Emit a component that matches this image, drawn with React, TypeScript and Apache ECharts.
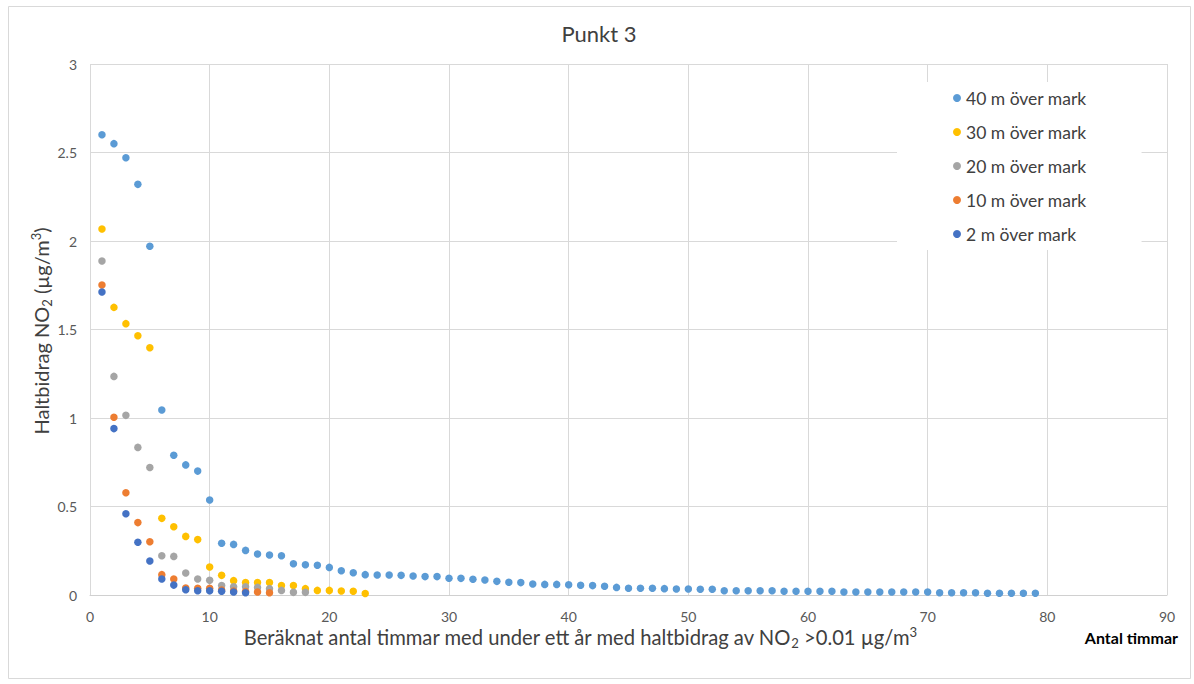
import React, { useEffect, useRef } from "react";
import * as echarts from "echarts";

const TITLE = "Punkt 3";
const SERIES_NAMES = ["40 m över mark", "30 m över mark", "20 m över mark", "10 m över mark", "2 m över mark"];
const COLORS = ["#5B9BD5", "#FFC000", "#A5A5A5", "#ED7D31", "#4472C4"];

// values for hour counts 1, 2, 3, ...
const s40 = [
  2.60, 2.55, 2.47, 2.32, 1.97, 1.045, 0.79, 0.735, 0.70, 0.537,
  0.292, 0.286, 0.252, 0.232, 0.226, 0.222, 0.177, 0.171, 0.168, 0.156,
  0.137, 0.126, 0.115, 0.113, 0.113, 0.111, 0.107, 0.104, 0.104, 0.095,
  0.094, 0.089, 0.085, 0.077, 0.072, 0.070, 0.062, 0.060, 0.060, 0.058,
  0.055, 0.053, 0.049, 0.043, 0.038, 0.038, 0.038, 0.036, 0.034, 0.034,
  0.032, 0.032, 0.024, 0.024, 0.024, 0.024, 0.024, 0.021, 0.021, 0.021,
  0.021, 0.021, 0.017, 0.017, 0.017, 0.017, 0.017, 0.017, 0.017, 0.017,
  0.013, 0.013, 0.013, 0.013, 0.010, 0.010, 0.010, 0.010, 0.010,
];
const s30 = [
  2.068, 1.625, 1.533, 1.465, 1.397, 0.433, 0.386, 0.331, 0.313, 0.158,
  0.111, 0.081, 0.070, 0.070, 0.070, 0.053, 0.053, 0.036, 0.026, 0.026,
  0.023, 0.021, 0.008,
];
const s20 = [
  1.887, 1.235, 1.015, 0.834, 0.72, 0.222, 0.218, 0.124, 0.090, 0.083,
  0.053, 0.047, 0.047, 0.043, 0.036, 0.026, 0.015, 0.015,
];
const s10 = [
  1.751, 1.004, 0.578, 0.409, 0.301, 0.115, 0.090, 0.040, 0.038, 0.038,
  0.028, 0.023, 0.020, 0.017, 0.013,
];
const s2 = [
  1.712, 0.94, 0.459, 0.298, 0.192, 0.090, 0.056, 0.030, 0.024, 0.024,
  0.021, 0.017, 0.013,
];
const SERIES_VALUES = [s40, s30, s20, s10, s2];

const X_TITLE = "Beräknat antal timmar med under ett år med haltbidrag av NO{sub|2} >0.01 µg/m{sup|3}";
const X_UNIT = "Antal timmar";
const Y_TITLE = "Haltbidrag NO{sub|2} (µg/m{sup|3})";

const FONT = "Lato, 'Open Sans', sans-serif";

export default function App() {
  const ref = useRef<HTMLDivElement>(null);
  useEffect(() => {
    if (!ref.current) return;
    const chart = echarts.init(ref.current, null, { renderer: "svg" });
    const richSubSup = (size: number) => ({
      sub: { fontSize: size * 0.65, verticalAlign: "bottom", fontFamily: FONT, fill: "#404040", color: "#404040" },
      sup: { fontSize: size * 0.65, verticalAlign: "top", fontFamily: FONT, fill: "#404040", color: "#404040" },
    });
    chart.setOption({
      animation: false,
      backgroundColor: "#ffffff",
      textStyle: { fontFamily: FONT },
      grid: { left: 90, right: 27, top: 64, bottom: 89, containLabel: false },
      xAxis: {
        type: "value",
        min: 0,
        max: 90,
        interval: 10,
        axisLine: { show: true, lineStyle: { color: "#d0d0d0", width: 1 } },
        axisTick: { show: false },
        axisLabel: { color: "#595959", fontSize: 14, margin: 14, fontFamily: FONT },
        splitLine: { show: true, lineStyle: { color: "#d9d9d9", width: 1 } },
      },
      yAxis: {
        type: "value",
        min: 0,
        max: 3,
        interval: 0.5,
        axisLine: { show: false },
        axisTick: { show: false },
        axisLabel: { color: "#595959", fontSize: 14, margin: 13, fontFamily: FONT },
        splitLine: { show: true, lineStyle: { color: "#d9d9d9", width: 1 } },
      },
      legend: {
        orient: "vertical",
        left: 897,
        top: 82,
        backgroundColor: "#ffffff",
        padding: [6, 55, 6, 56],
        itemWidth: 8,
        itemHeight: 8,
        itemGap: 14,
        icon: "circle",
        data: SERIES_NAMES,
        textStyle: { fontSize: 17.5, lineHeight: 20, color: "#404040", fontFamily: FONT },
      },
      series: SERIES_NAMES.map((name, i) => ({
        name,
        type: "scatter",
        symbol: "circle",
        symbolSize: 7.5,
        itemStyle: { color: COLORS[i], opacity: 1 },
        data: SERIES_VALUES[i].map((v, k) => [k + 1, v]),
        z: 2 + i,
      })),
      graphic: [
        {
          type: "rect",
          shape: { x: 8.5, y: 6.5, width: 1182, height: 672 },
          style: { fill: "none", stroke: "#d9d9d9", lineWidth: 1 },
          silent: true,
          z: -10,
        },
        {
          type: "text",
          x: 599,
          y: 33,
          style: {
            text: TITLE,
            font: `22px ${FONT}`,
            fill: "#404040",
            align: "center",
            verticalAlign: "middle",
          },
        },
        {
          type: "text",
          x: 580,
          y: 637,
          style: {
            text: X_TITLE,
            fontSize: 20.2,
            fontFamily: FONT,
            fill: "#404040",
            align: "center",
            verticalAlign: "middle",
            lineHeight: 24,
            rich: richSubSup(20.2),
          },
        },
        {
          type: "text",
          x: 1178,
          y: 637,
          style: {
            text: X_UNIT,
            fontSize: 16,
            fontWeight: "bold",
            fontFamily: FONT,
            fill: "#000000",
            align: "right",
            verticalAlign: "middle",
          },
        },
        {
          type: "text",
          x: 41,
          y: 331,
          rotation: Math.PI / 2,
          style: {
            text: Y_TITLE,
            fontSize: 20,
            fontFamily: FONT,
            fill: "#404040",
            align: "center",
            verticalAlign: "middle",
            lineHeight: 24,
            rich: richSubSup(20),
          },
        },
      ],
    });
    return () => chart.dispose();
  }, []);
  return (
    <div
      ref={ref}
      style={{ position: "fixed", left: 0, top: 0, width: 1194, height: 684, background: "#fff" }}
    />
  );
}
